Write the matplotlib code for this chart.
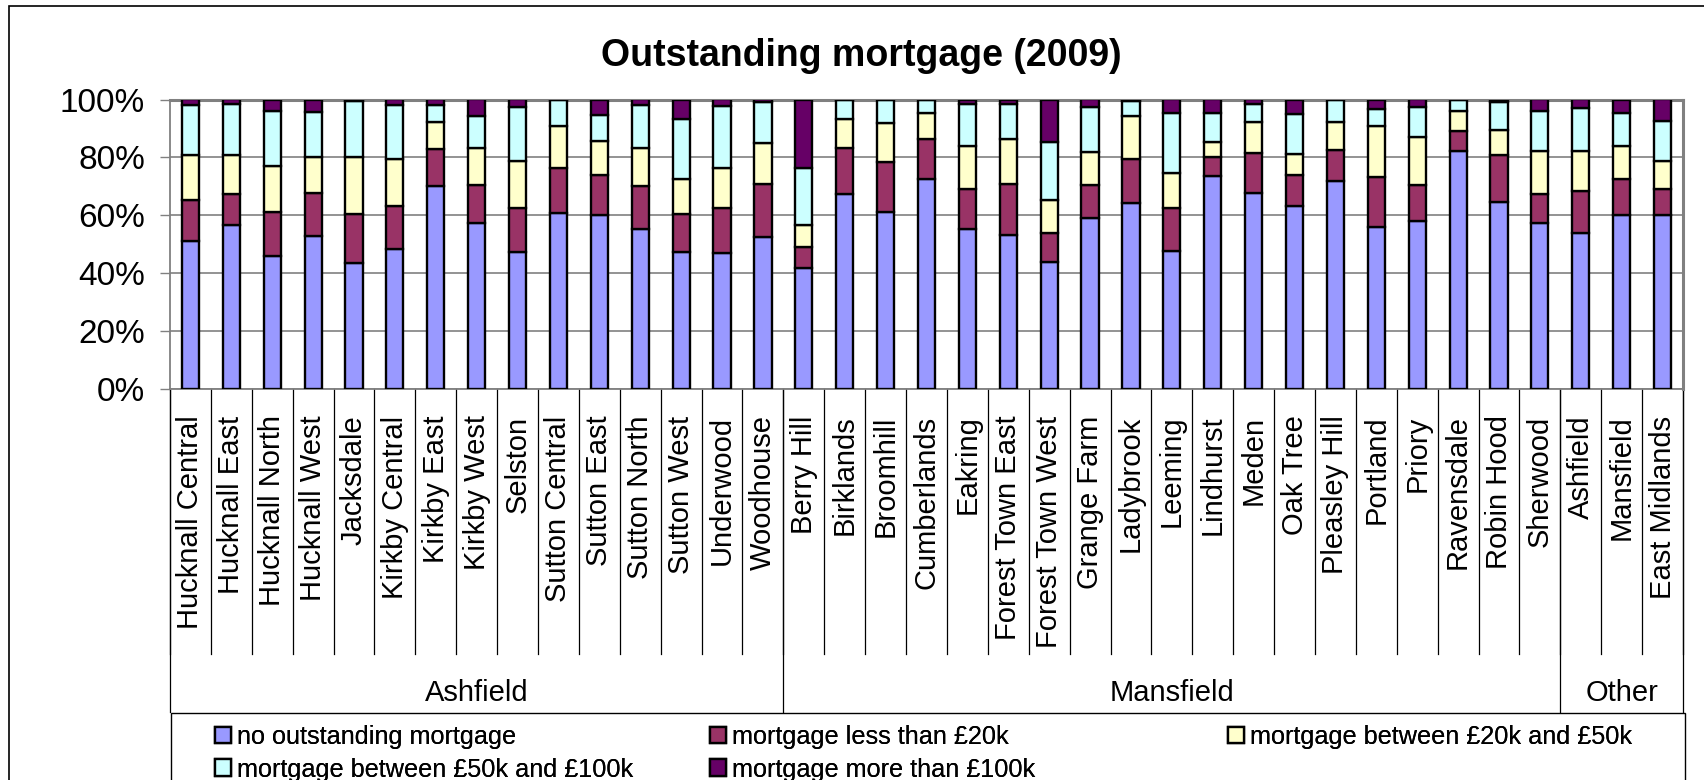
import matplotlib
matplotlib.use('Agg')
import matplotlib.pyplot as plt
from matplotlib.patches import Rectangle
import numpy as np

plt.rcParams['font.family'] = ['Liberation Sans', 'DejaVu Sans']

# wards, in chart order
wards = ['Hucknall Central', 'Hucknall East', 'Hucknall North', 'Hucknall West',
         'Jacksdale', 'Kirkby Central', 'Kirkby East', 'Kirkby West', 'Selston',
         'Sutton Central', 'Sutton East', 'Sutton North', 'Sutton West',
         'Underwood', 'Woodhouse',
         'Berry Hill', 'Birklands', 'Broomhill', 'Cumberlands', 'Eakring',
         'Forest Town East', 'Forest Town West', 'Grange Farm', 'Ladybrook',
         'Leeming', 'Lindhurst', 'Meden', 'Oak Tree', 'Pleasley Hill',
         'Portland', 'Priory', 'Ravensdale', 'Robin Hood', 'Sherwood',
         'Ashfield', 'Mansfield', 'East Midlands']
groups = ['Ashfield', 'Mansfield', 'Other']
group_sizes = [15, 19, 3]

series_names = ['no outstanding mortgage', 'mortgage less than £20k',
                'mortgage between £20k and £50k', 'mortgage between £50k and £100k',
                'mortgage more than £100k']

# percentages
no_mortgage = [51.1, 56.6, 45.9, 52.8, 43.5, 48.2, 70.2, 57.2, 47.3, 60.9, 60.1, 55.1, 47.4,
               47.1, 52.6, 41.9, 67.5, 61.1, 72.4, 55.2, 53.3, 43.7, 58.9, 64.4, 47.5, 73.6,
               67.8, 63.1, 71.8, 56.0, 58.2, 82.2, 64.6, 57.5, 54.0, 60.1, 60.1]
less_20k = [14.1, 10.6, 15.1, 15.0, 17.1, 14.9, 12.7, 13.1, 15.3, 15.5, 13.7, 15.1, 12.9,
            15.3, 18.2, 7.0, 15.6, 17.3, 14.0, 13.8, 17.4, 10.3, 11.5, 15.0, 15.1, 6.6,
            13.8, 10.7, 10.9, 17.1, 12.1, 6.8, 16.1, 10.0, 14.4, 12.4, 8.9]
from_20_to_50k = [15.6, 13.6, 16.0, 12.2, 19.5, 16.3, 9.3, 12.9, 16.2, 14.4, 11.9, 13.2, 12.1,
                  14.0, 14.2, 7.6, 10.0, 13.5, 9.0, 14.9, 15.5, 11.2, 11.5, 14.8, 11.9, 5.2,
                  10.5, 7.3, 9.4, 17.7, 16.8, 7.0, 8.9, 14.7, 13.8, 11.4, 9.7]
from_50_to_100k = [17.2, 17.8, 18.9, 15.6, 19.4, 18.6, 5.8, 11.0, 18.7, 8.9, 9.1, 14.6, 20.9,
                   21.4, 14.1, 20.0, 6.7, 7.8, 4.3, 14.5, 12.2, 20.0, 15.6, 5.4, 20.7, 9.8,
                   6.5, 13.8, 7.6, 5.9, 10.4, 3.7, 9.6, 13.8, 14.9, 11.5, 13.8]
more_100k = [2.0, 1.4, 4.1, 4.4, 0.5, 2.0, 2.0, 5.8, 2.5, 0.3, 5.2, 2.0, 6.7,
             2.2, 0.9, 23.5, 0.2, 0.3, 0.3, 1.6, 1.6, 14.8, 2.5, 0.4, 4.8, 4.8,
             1.4, 5.1, 0.3, 3.3, 2.5, 0.3, 0.8, 4.0, 2.9, 4.6, 7.5]

series = [no_mortgage, less_20k, from_20_to_50k, from_50_to_100k, more_100k]
colors = ['#9999FF', '#993366', '#FFFFCC', '#CCFFFF', '#660066']

W, H = 1704, 780
fig = plt.figure(figsize=(W / 100, H / 100), dpi=100)
ax_l, ax_r, ax_t, ax_b = 170, 1683, 99.5, 389
ax = fig.add_axes([ax_l / W, 1 - ax_b / H, (ax_r - ax_l) / W, (ax_b - ax_t) / H])

x = np.arange(len(wards))
bottom = np.zeros(len(wards))
handles = []
for vals, name, c in zip(series, series_names, colors):
    b = ax.bar(x, vals, 0.42, bottom=bottom, color=c, edgecolor='black',
               linewidth=1.7, label=name, zorder=3)
    handles.append(b)
    bottom += np.array(vals)

ax.set_xlim(-0.5, len(wards) - 0.5)
ax.set_ylim(0, 100)
ax.set_yticks(range(0, 101, 20))
ax.set_yticklabels([f'{v}%' for v in range(0, 101, 20)], fontsize=24)
ax.tick_params(axis='y', length=7, width=1, color='#808080', pad=11)
ax.grid(axis='y', color='#808080', linewidth=1.2, zorder=0)
ax.set_axisbelow(True)

ax.set_xticks(x)
ax.set_xticklabels(wards, rotation=90, fontsize=21)
ax.tick_params(axis='x', length=0, pad=19)

for s in ['left', 'bottom']:
    ax.spines[s].set_color('#808080')
    ax.spines[s].set_linewidth(1.3)
for s in ['top', 'right']:
    ax.spines[s].set_color('#808080')
    ax.spines[s].set_linewidth(2.2)

# category and group separators below the axis
trans = ax.get_xaxis_transform()
axis_h = ax_b - ax_t
cat_end = -(654 - ax_b) / axis_h
grp_end = -(712 - ax_b) / axis_h
for b in np.arange(-0.5, len(wards)):
    ax.plot([b, b], [0, cat_end], transform=trans, clip_on=False, color='black', lw=0.9)
edges = np.concatenate([[0], np.cumsum(group_sizes)]) - 0.5
for b in edges:
    ax.plot([b, b], [0, grp_end], transform=trans, clip_on=False, color='black', lw=0.9)
for g, lo, hi in zip(groups, edges[:-1], edges[1:]):
    ax.text((lo + hi) / 2, -(693 - ax_b) / axis_h, g, transform=trans,
            ha='center', va='center', fontsize=21)

fig.text(861 / W, 1 - 56 / H, 'Outstanding mortgage (2009)', ha='center', va='center',
         fontsize=27, fontweight='bold')

# legend box and outer chart border
fig.add_artist(Rectangle((171 / W, -0.05), (1685 - 171) / W, (780 - 713) / H + 0.05,
                         transform=fig.transFigure, fill=False, ec='black', lw=1))
fig.add_artist(Rectangle((9 / W, -0.05), 1.1, 1 - 6 / H + 0.05,
                         transform=fig.transFigure, fill=False, ec='black', lw=1.2))

legend_cols = [(215, [0, 3]), (710, [1, 4]), (1228, [2])]
for xl, idx in legend_cols:
    leg = fig.legend([handles[i] for i in idx], [series_names[i] for i in idx],
                     loc='upper left', bbox_to_anchor=(xl / W, 1 - 725 / H),
                     frameon=False, fontsize=18.2, borderpad=0, borderaxespad=0,
                     handlelength=0.64, handleheight=0.64, handletextpad=0.25,
                     labelspacing=0.34)
    fig.add_artist(leg)

fig.savefig('out.png', dpi=100)
